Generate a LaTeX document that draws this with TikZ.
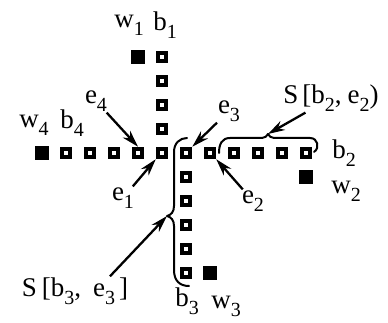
\documentclass[tikz,border=0pt]{standalone}
\usepackage{fontspec}
\setmainfont{Liberation Serif}
\usetikzlibrary{arrows.meta}
% lowered, slightly smaller index
\newcommand\lsub[1]{\raisebox{-0.3em}{\fontsize{20}{20}\selectfont #1}}
\begin{document}
\begin{tikzpicture}[x=1pt,y=-1pt,
  cell/.style={draw=black,line width=4pt,fill=white,inner sep=0pt,minimum size=8.5pt},
  stone/.style={fill=black,inner sep=0pt,minimum size=14pt},
  lbl/.style={inner sep=1pt,font=\fontsize{27}{27}\selectfont},
  arr/.style={line width=2.3pt,-{Stealth[length=17pt,width=10pt]}},
  brace/.style={line width=2pt,line cap=round,line join=round}]
\useasboundingbox (0,0) rectangle (388,323);

% horizontal chain
\foreach \i in {1,...,11} \node[cell] (r\i) at ({42+24*\i},153) {};
% upper arm
\foreach \j/\y in {1/129,2/105,3/81,4/57} \node[cell] (u\j) at (162,\y) {};
% lower arm
\foreach \j in {1,...,5} \node[cell] (d\j) at (186,{153+24*\j}) {};

% end stones
\node[stone] (w4) at (42,153) {};
\node[stone] (w1) at (138,57) {};
\node[stone] (w2) at (306,177) {};
\node[stone] (w3) at (210,273) {};

% labels
\node[lbl] (lw1) at (129,25) {w\lsub{1}};
\node[lbl] (lb1) at (165,25) {b\lsub{1}};
\node[lbl] (lw4) at (34,125) {w\lsub{4}};
\node[lbl] (lb4) at (72,123) {b\lsub{4}};
\node[lbl] (le4) at (96,101) {e\lsub{4}};
\node[lbl] (le3) at (229,111) {e\lsub{3}};
\node[lbl] (lS2) at (331,98) {S\hspace{4pt}[b\lsub{2},\hspace{6pt}e\lsub{2})};
\node[lbl] (lb2) at (344,153) {b\lsub{2}};
\node[lbl] (lw2) at (346,191) {w\lsub{2}};
\node[lbl] (le1) at (123,198) {e\lsub{1}};
\node[lbl] (le2) at (253,201) {e\lsub{2}};
\node[lbl] (lS3) at (75,291) {S\hspace{5pt}[b\lsub{3},\hspace{12pt}e\lsub{3}\hspace{4pt}]};
\node[lbl] (lb3) at (187,301) {b\lsub{3}};
\node[lbl] (lw3) at (226,306) {w\lsub{3}};

% segment braces
\draw[brace] (187,138) .. controls (180,138) and (174,143) .. (174,152)
  -- (174,206) .. controls (174,212) and (171,215) .. (167,216) coordinate (bB)
  .. controls (171,217) and (174,220) .. (174,226)
  -- (174,270) .. controls (174,281) and (180,286) .. (189,286);
\draw[brace] (219,153) .. controls (219,144) and (222,138) .. (230,138)
  -- (262,138) .. controls (265,138) and (267,136) .. (268,134) coordinate (bA)
  .. controls (269,136) and (271,138) .. (274,138)
  -- (310,138) .. controls (318,138) and (320,148) .. (314,152);

% pointers
\draw[arr] (le4) -- (r4.north);
\draw[arr] (le1) -- (r5.south west);
\draw[arr] (le3) -- (r6.north east);
\draw[arr] (le2) -- (r7.south east);
\draw[arr] (lS2) -- (bA);
\draw[arr] ([xshift=35pt]lS3.north) -- (bB);
\end{tikzpicture}
\end{document}
